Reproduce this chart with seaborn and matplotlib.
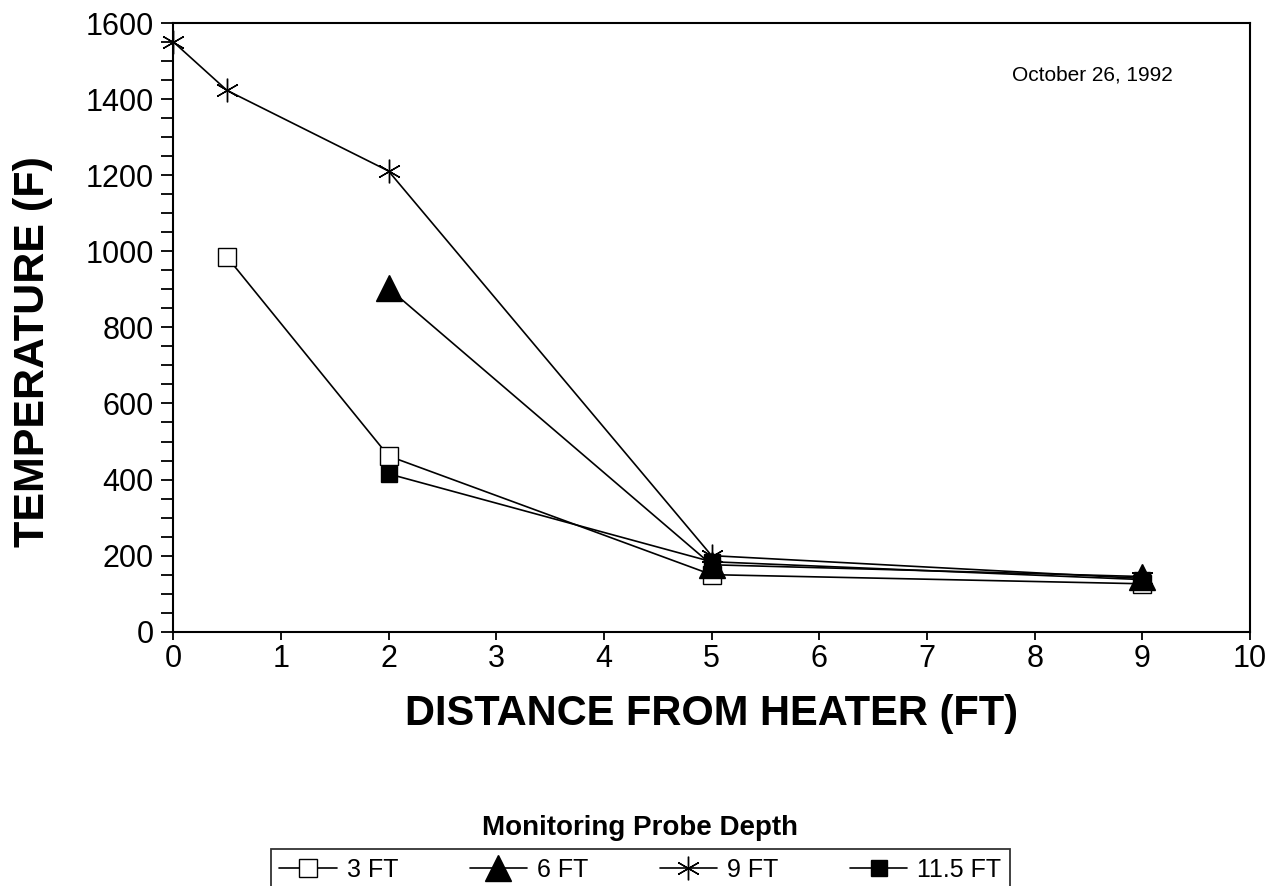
import numpy as np
import pandas as pd
import matplotlib
matplotlib.use("Agg")
import matplotlib.pyplot as plt
from matplotlib.lines import Line2D
from matplotlib.ticker import MultipleLocator
import seaborn as sns

# ========== DATA ==========
depths = ['3 FT', '6 FT', '9 FT', '11.5 FT']

x_3ft = [0.5, 2, 5, 9]
y_3ft = [985, 462, 150, 126]

x_6ft = [2, 5, 9]
y_6ft = [903, 176, 145]

x_9ft = [0, 0.5, 2, 5, 9]
y_9ft = [1551, 1423, 1211, 200, 140]

x_115ft = [2, 5, 9]
y_115ft = [415, 184, 137]

xs = [x_3ft, x_6ft, x_9ft, x_115ft]
ys = [y_3ft, y_6ft, y_9ft, y_115ft]

# ========== STYLE ==========
sns.set_style('ticks')
plt.rcParams['font.family'] = ['Liberation Sans', 'DejaVu Sans']
plt.rcParams['text.color'] = 'black'
plt.rcParams['xtick.color'] = 'black'
plt.rcParams['ytick.color'] = 'black'
plt.rcParams['axes.labelcolor'] = 'black'

marker_styles = {
    '3 FT': dict(marker='s', ms=13, mfc='white', mec='black', mew=1.0),
    '6 FT': dict(marker='^', ms=19, mfc='black', mec='black', mew=1.0),
    '9 FT': dict(marker=(6, 2, 0), ms=17, mfc='black', mec='black', mew=1.0),
    '11.5 FT': dict(marker='s', ms=11.5, mfc='black', mec='black', mew=1.0),
}

fig = plt.figure(figsize=(12.73, 8.86), dpi=100)
ax = fig.add_axes([0.136, 0.287, 0.846, 0.687])

for name, xv, yv in zip(depths, xs, ys):
    df = pd.DataFrame({'x': xv, 'y': yv})
    sns.lineplot(data=df, x='x', y='y', ax=ax, color='black', lw=1.2,
                 errorbar=None, clip_on=False, **marker_styles[name])

ax.set_xlim(0, 10)
ax.set_ylim(0, 1600)
ax.xaxis.set_major_locator(MultipleLocator(1))
ax.yaxis.set_major_locator(MultipleLocator(200))
ax.yaxis.set_minor_locator(MultipleLocator(50))

ax.tick_params(axis='y', which='both', direction='out', length=9, width=1.3,
               labelsize=22, pad=5, right=False)
ax.tick_params(axis='x', which='major', direction='out', length=6, width=1.3,
               labelsize=22, pad=3, top=False)
for sp in ax.spines.values():
    sp.set_visible(True)
    sp.set_linewidth(1.5)
    sp.set_color('black')

ax.set_xlabel('DISTANCE FROM HEATER (FT)', fontsize=30, fontweight='bold', labelpad=14)
ax.set_ylabel('TEMPERATURE (F)', fontsize=31, fontweight='bold')
ax.yaxis.set_label_coords(-0.112, 0.46)

ax.text(0.854, 0.915, 'October 26, 1992', transform=ax.transAxes,
        fontsize=15, ha='center', va='center')

# ========== LEGEND ==========
handles = [Line2D([0], [0], color='black', lw=1.2, **marker_styles[n]) for n in depths]
fig.text(0.503, 1 - 828 / 886, 'Monitoring Probe Depth', fontsize=20,
         fontweight='bold', ha='center', va='center')
leg = fig.legend(handles, depths, loc='upper center', bbox_to_anchor=(0.503, 1 - 849 / 886),
                 ncol=4, fontsize=18, frameon=True, fancybox=False, edgecolor='black',
                 handlelength=2.3, handletextpad=0.4, columnspacing=2.85,
                 borderpad=0.35, borderaxespad=0)
leg.get_frame().set_linewidth(1.3)

fig.savefig('out.png', dpi=100)
